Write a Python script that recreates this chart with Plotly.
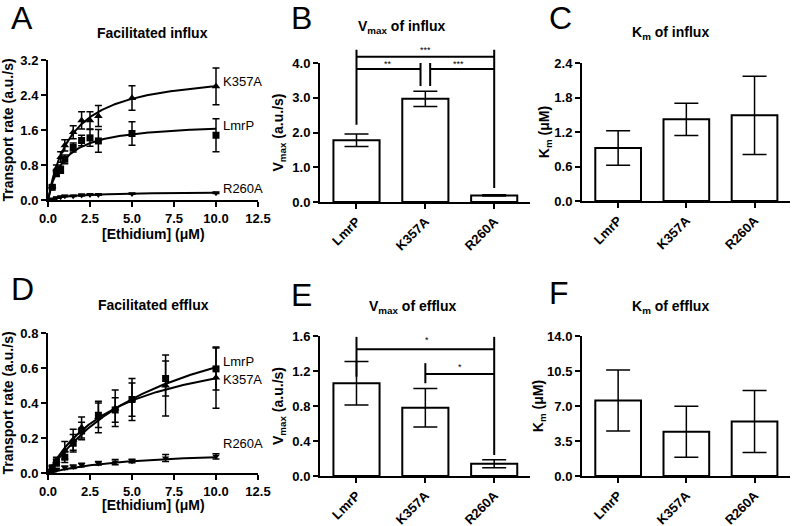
import numpy as np
import plotly.graph_objects as go

W, H = 797, 526
FONT = "Liberation Sans, Arial, sans-serif"

# ---------------- data ----------------
strains = ["LmrP", "K357A", "R260A"]

# Panel A: facilitated influx
conc_in = [0.25, 0.5, 0.75, 1, 1.5, 2, 2.5, 3, 5, 10]
in_lmrp = [0.29, 0.60, 0.69, 0.93, 1.20, 1.36, 1.42, 1.35, 1.52, 1.48]
in_lmrp_err = [0.03, 0.06, 0.08, 0.10, 0.10, 0.12, 0.19, 0.26, 0.27, 0.38]
in_k357a = [0.31, 0.72, 0.98, 1.25, 1.55, 1.82, 1.82, 1.92, 2.33, 2.60]
in_k357a_err = [0.03, 0.08, 0.12, 0.13, 0.15, 0.20, 0.20, 0.24, 0.28, 0.42]
in_r260a = [0.02, 0.05, 0.07, 0.09, 0.09, 0.11, 0.12, 0.12, 0.14, 0.16]
in_r260a_err = [0.01, 0.01, 0.01, 0.01, 0.01, 0.02, 0.01, 0.01, 0.01, 0.01]

# Panel D: facilitated efflux
conc_ef = [0.25, 0.5, 1, 1.5, 2, 3, 4, 5, 7, 10]
ef_lmrp = [0.03, 0.06, 0.09, 0.17, 0.24, 0.33, 0.36, 0.42, 0.54, 0.595]
ef_lmrp_err = [0.01, 0.02, 0.03, 0.05, 0.05, 0.07, 0.07, 0.095, 0.10, 0.12]
ef_k357a = [0.03, 0.07, 0.13, 0.19, 0.26, 0.32, 0.37, 0.42, 0.50, 0.545]
ef_k357a_err = [0.01, 0.02, 0.05, 0.06, 0.06, 0.09, 0.105, 0.12, 0.175, 0.175]
ef_r260a = [0.01, 0.02, 0.03, 0.035, 0.045, 0.055, 0.062, 0.068, 0.085, 0.095]
ef_r260a_err = [0.005, 0.005, 0.01, 0.01, 0.01, 0.01, 0.015, 0.01, 0.02, 0.015]

# Panels B, C, E, F: kinetic parameters
vmax_in = [1.78, 2.97, 0.19]
vmax_in_err = [0.18, 0.22, 0.02]
km_in = [0.92, 1.42, 1.49]
km_in_err = [0.30, 0.28, 0.68]
vmax_ef = [1.06, 0.78, 0.14]
vmax_ef_err = [0.25, 0.22, 0.045]
km_ef = [7.55, 4.43, 5.45]
km_ef_err = [3.05, 2.55, 3.10]

# significance brackets (category position, value units)
brk_B_lines = [(0, 2.22, 0, 4.38), (2, 0.40, 2, 4.38), (0, 4.18, 2, 4.18),
               (0, 3.83, 0.93, 3.83), (1.07, 3.83, 2, 3.83),
               (0.93, 3.34, 0.93, 4.0), (1.07, 3.34, 1.07, 4.0)]
brk_B_text = [(1.0, 4.36, "***"), (0.46, 3.97, "**"), (1.48, 3.97, "***")]
brk_E_lines = [(0, 1.135, 0, 1.59), (2, 0.24, 2, 1.59), (0, 1.45, 2, 1.45),
               (1, 1.06, 1, 1.29), (1, 1.165, 2, 1.165)]
brk_E_text = [(1.03, 1.55, "*"), (1.51, 1.25, "*")]

# ---------------- layout helpers ----------------
def xdom(p0, p1):
    return [p0 / W, p1 / W]

def ydom(top, bottom):
    return [1 - bottom / H, 1 - top / H]

boxes = {  # left, right, top, bottom in px
    "A": (48, 258, 60, 200), "B": (320, 530, 63, 202), "C": (582, 790, 63, 201),
    "D": (48, 258, 333, 473), "E": (320, 530, 336, 476), "F": (582, 790, 336, 476),
}

tickfont = dict(family=FONT, size=13, color="black", weight="bold")
titlefont = dict(family=FONT, size=14, color="black", weight="bold")
axis_common = dict(showline=True, linecolor="black", linewidth=2, ticks="outside",
                   ticklen=5, tickwidth=2, tickcolor="black", showgrid=False,
                   zeroline=False, tickfont=tickfont, title_font=titlefont,
                   automargin=False)

fig = go.Figure()

def mm_curve(vmax, km, xmax):
    xs = np.linspace(0, xmax, 200)
    return xs, vmax * xs / (km + xs)

curve_line = dict(color="black", width=2)
def add_series(xa, ya, xs, ys, err, symbol, size, vmax, km):
    cx, cy = mm_curve(vmax, km, max(xs))
    fig.add_trace(go.Scatter(x=cx, y=cy, mode="lines", line=curve_line,
                             xaxis=xa, yaxis=ya, showlegend=False, hoverinfo="skip"))
    fig.add_trace(go.Scatter(x=xs, y=ys, mode="markers",
                             marker=dict(symbol=symbol, size=size, color="black"),
                             error_y=dict(type="data", array=err, color="black",
                                          thickness=1.5, width=3.5),
                             xaxis=xa, yaxis=ya, showlegend=False, cliponaxis=False))

# Panel A
add_series("x", "y", conc_in, in_k357a, in_k357a_err, "triangle-up", 7.5, vmax_in[1], km_in[1])
add_series("x", "y", conc_in, in_lmrp, in_lmrp_err, "square", 7, vmax_in[0], km_in[0])
add_series("x", "y", conc_in, in_r260a, in_r260a_err, "triangle-down", 6.5, vmax_in[2], km_in[2])
# Panel D
add_series("x4", "y4", conc_ef, ef_lmrp, ef_lmrp_err, "square", 7, vmax_ef[0], km_ef[0])
add_series("x4", "y4", conc_ef, ef_k357a, ef_k357a_err, "triangle-up", 7.5, vmax_ef[1], km_ef[1])
add_series("x4", "y4", conc_ef, ef_r260a, ef_r260a_err, "triangle-down", 6.5, vmax_ef[2], km_ef[2])

def add_bars(xa, ya, vals, errs):
    fig.add_trace(go.Bar(x=strains, y=vals, width=0.67,
                         marker=dict(color="white", line=dict(color="black", width=2)),
                         error_y=dict(type="data", array=errs, color="black",
                                      thickness=1.5, width=12),
                         xaxis=xa, yaxis=ya, showlegend=False))

add_bars("x2", "y2", vmax_in, vmax_in_err)
add_bars("x3", "y3", km_in, km_in_err)
add_bars("x5", "y5", vmax_ef, vmax_ef_err)
add_bars("x6", "y6", km_ef, km_ef_err)

annotations = []
def add_brackets(xa, ya, lines, texts):
    for (x0, y0, x1, y1) in lines:
        fig.add_trace(go.Scatter(x=[x0, x1], y=[y0, y1], mode="lines",
                                 line=dict(color="black", width=2),
                                 xaxis=xa, yaxis=ya, showlegend=False, hoverinfo="skip"))
    for (tx, ty, t) in texts:
        annotations.append(dict(x=tx, y=ty, xref=xa, yref=ya, text=t, showarrow=False,
                                font=dict(family=FONT, size=9, color="black"),
                                xanchor="center", yanchor="middle"))

add_brackets("x7", "y7", brk_B_lines, brk_B_text)
add_brackets("x8", "y8", brk_E_lines, brk_E_text)

cat_range = [-0.53, 2.52]
lay = {}
# line plots (x-axis titles placed as annotations below)
for key, xa, ya, yr, ydt in [("A", "xaxis", "yaxis", 3.2, 0.8), ("D", "xaxis4", "yaxis4", 0.8, 0.2)]:
    l, r, t, b = boxes[key]
    lay[xa] = dict(axis_common, domain=xdom(l, r), range=[0, 12.5], tickvals=[0, 2.5, 5, 7.5, 10, 12.5],
                   tickformat=".1f", anchor=ya.replace("axis", ""))
    lay[ya] = dict(axis_common, domain=ydom(t, b), range=[0, yr], dtick=ydt, tick0=0,
                   tickformat=".1f", title=dict(text="Transport rate (a.u./s)", standoff=6),
                   anchor=xa.replace("axis", ""))

bar_specs = [("B", "xaxis2", "yaxis2", 4.0, 1.0, "V<sub>max</sub> (a.u./s)", 5),
             ("C", "xaxis3", "yaxis3", 2.4, 0.6, "K<sub>m</sub> (μM)", 1),
             ("E", "xaxis5", "yaxis5", 1.6, 0.4, "V<sub>max</sub> (a.u./s)", 5),
             ("F", "xaxis6", "yaxis6", 14.0, 3.5, "K<sub>m</sub> (μM)", 0)]
for key, xa, ya, yr, ydt, ytitle, so in bar_specs:
    l, r, t, b = boxes[key]
    lay[xa] = dict(axis_common, domain=xdom(l, r), range=cat_range, tickangle=-45,
                   anchor=ya.replace("axis", ""))
    lay[ya] = dict(axis_common, domain=ydom(t, b), range=[0, yr], dtick=ydt, tick0=0,
                   tickformat=".1f", title=dict(text=ytitle, standoff=so),
                   anchor=xa.replace("axis", ""))

# overlay subplots for the significance brackets (taller than the data area)
for key, xa, ya, yr, top_val in [("B", "xaxis7", "yaxis7", 4.0, 4.6), ("E", "xaxis8", "yaxis8", 1.6, 1.75)]:
    l, r, t, b = boxes[key]
    ppu = (b - t) / yr
    top_px = b - top_val * ppu
    lay[xa] = dict(domain=xdom(l, r), range=cat_range, visible=False, showticklabels=False,
                   ticks="", automargin=False, anchor=ya.replace("axis", ""))
    lay[ya] = dict(domain=ydom(top_px, b), range=[0, top_val], visible=False, showticklabels=False,
                   ticks="", automargin=False, anchor=xa.replace("axis", ""))

# curve labels
for xa, ya, items in [("x", "y", [(2.70, "K357A"), (1.71, "LmrP"), (0.27, "R260A")]),
                      ("x4", "y4", [(0.635, "LmrP"), (0.535, "K357A"), (0.167, "R260A")])]:
    for yv, t in items:
        annotations.append(dict(x=10.3, y=yv, xref=xa, yref=ya, text=t, showarrow=False,
                                xanchor="left", yanchor="middle",
                                font=dict(family=FONT, size=13, color="black")))

# x-axis titles of the line plots
for px, py in [(153, 233.5), (153, 505)]:
    annotations.append(dict(x=px / W, y=1 - py / H, xref="paper", yref="paper",
                            text="[Ethidium] (μM)", showarrow=False,
                            xanchor="center", yanchor="middle", font=titlefont))

# panel titles
titles = [(152, 33, "Facilitated influx"), (402, 27, "V<sub>max</sub> of influx"),
          (670, 33, "K<sub>m</sub> of influx"), (153, 305, "Facilitated efflux"),
          (412, 307, "V<sub>max</sub> of efflux"), (670, 307, "K<sub>m</sub> of efflux")]
for px, py, t in titles:
    annotations.append(dict(x=px / W, y=1 - py / H, xref="paper", yref="paper", text=t,
                            showarrow=False, xanchor="center", yanchor="middle",
                            font=dict(family=FONT, size=14, color="black", weight="bold")))

# panel letters
letters = [(9, 18, "A"), (289, 18, "B"), (547, 18, "C"), (9, 289, "D"), (289, 295, "E"), (547, 293, "F")]
for px, py, t in letters:
    annotations.append(dict(x=px / W, y=1 - py / H, xref="paper", yref="paper", text=t,
                            showarrow=False, xanchor="left", yanchor="middle",
                            font=dict(family=FONT, size=32, color="black")))

fig.update_layout(template="none", width=W, height=H, margin=dict(l=0, r=0, t=0, b=0, autoexpand=False),
                  autosize=False, paper_bgcolor="white", plot_bgcolor="rgba(0,0,0,0)",
                  showlegend=False, annotations=annotations, barmode="group", **lay)

fig.write_html("out.html", config={"displayModeBar": False},
               post_script="document.body.style.margin='0';document.body.style.padding='0';")
